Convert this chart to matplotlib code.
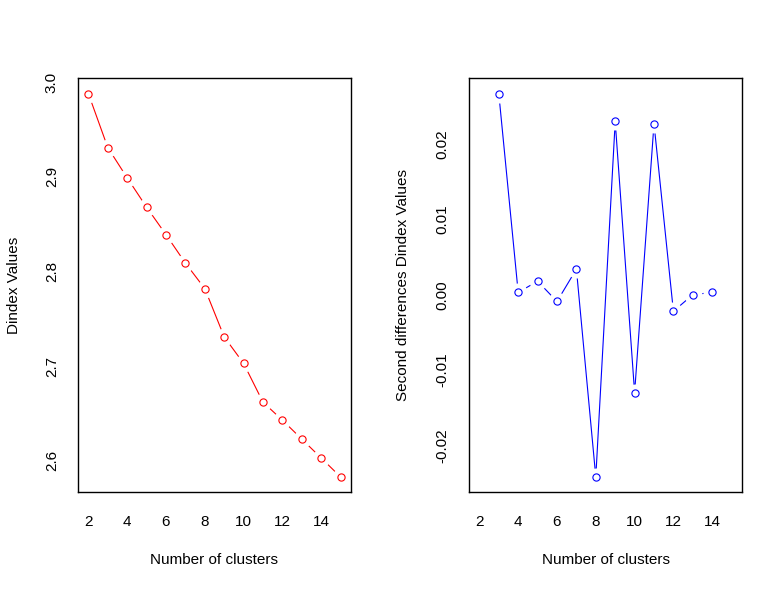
import matplotlib
matplotlib.use("Agg")
import matplotlib.pyplot as plt

clusters_left = [2, 3, 4, 5, 6, 7, 8, 9, 10, 11, 12, 13, 14, 15]
dindex_values = [2.988, 2.931, 2.899, 2.868, 2.839, 2.809, 2.782,
                 2.731, 2.703, 2.662, 2.643, 2.623, 2.603, 2.583]

clusters_right = [3, 4, 5, 6, 7, 8, 9, 10, 11, 12, 13, 14]
second_diff = [0.0267, 0.0003, 0.0018, -0.0009, 0.0034, -0.0242,
               0.0230, -0.0130, 0.0227, -0.0022, 0.0000, 0.0003]

xticks = [2, 4, 6, 8, 10, 12, 14]
left_yticks = [2.6, 2.7, 2.8, 2.9, 3.0]
right_yticks = [-0.02, -0.01, 0.00, 0.01, 0.02]
right_yticklabels = ["-0.02", "-0.01", "0.00", "0.01", "0.02"]

plt.rcParams['font.family'] = ['Liberation Sans', 'DejaVu Sans']
FS = 11

W, H = 782, 590
fig = plt.figure(figsize=(W / 100, H / 100), dpi=100)

def px_axes(x0, x1, y0, y1):
    return fig.add_axes([x0 / W, 1 - y1 / H, (x1 - x0) / W, (y1 - y0) / H])

ax1 = px_axes(78.3, 350.7, 78.3, 492.3)
ax2 = px_axes(469.3, 741.7, 78.3, 492.3)

def draw(ax, x, y, color):
    ax.plot(x, y, color=color, lw=0.8, zorder=1)
    ax.plot(x, y, linestyle='none', marker='o', markersize=13,
            markerfacecolor='white', markeredgecolor='none', zorder=1.5)
    ax.plot(x, y, linestyle='none', marker='o', markersize=5.2,
            markerfacecolor='none', markeredgecolor=color,
            markeredgewidth=0.8, zorder=2)

draw(ax1, clusters_left, dindex_values, 'red')
draw(ax2, clusters_right, second_diff, 'blue')

ax1.margins(x=0.04, y=0.04)
ax2.margins(y=0.04)
ax1.autoscale_view()
ax2.set_xlim(ax1.get_xlim())

for ax in (ax1, ax2):
    ax.set_xticks(xticks)
    ax.set_xticklabels([str(v) for v in xticks], fontsize=FS)
    ax.tick_params(axis='both', length=0)
    ax.tick_params(axis='x', pad=16.5)
    ax.tick_params(axis='y', pad=14)
    for s in ax.spines.values():
        s.set_linewidth(1.0)
        s.set_color('black')
    ax.set_xlabel("Number of clusters", fontsize=FS)
    ax.xaxis.set_label_coords(0.5, -0.1635)
    ax.xaxis.label.set_va('center')

ax1.set_yticks(left_yticks)
ax1.set_yticklabels([f"{v:.1f}" for v in left_yticks], fontsize=FS,
                    rotation=90, va='center')
ax2.set_yticks(right_yticks)
ax2.set_yticklabels(right_yticklabels, fontsize=FS, rotation=90, va='center')

ax1.set_ylabel("Dindex Values", fontsize=FS)
ax1.yaxis.set_label_coords(-0.236, 0.5)
ax1.yaxis.label.set_va('center')
ax2.set_ylabel("Second differences Dindex Values", fontsize=FS)
ax2.yaxis.set_label_coords(-0.243, 0.5)
ax2.yaxis.label.set_va('center')

fig.savefig("out.png", dpi=100, facecolor='white')
